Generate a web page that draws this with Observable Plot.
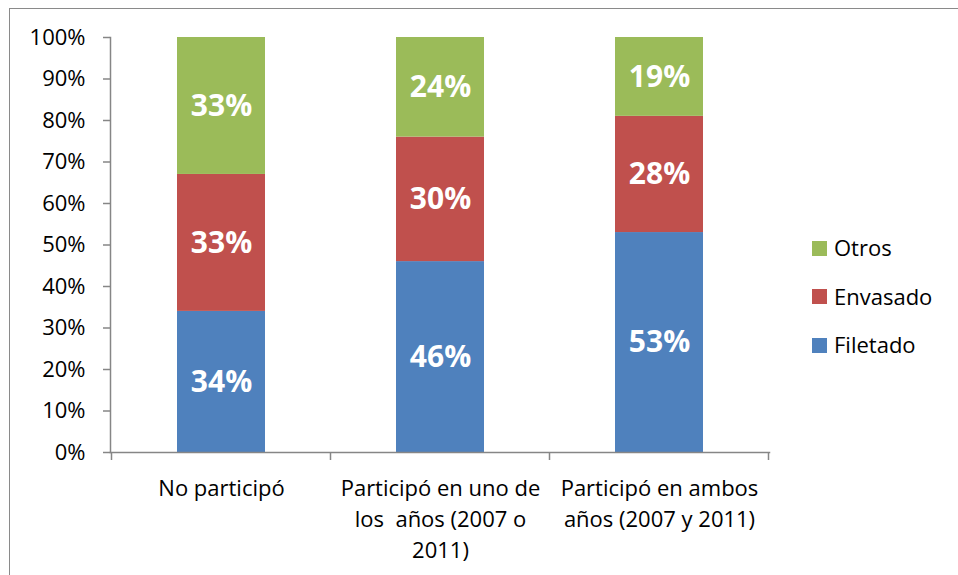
<!DOCTYPE html>
<html>
<head>
<meta charset="utf-8">
<script src="https://cdn.jsdelivr.net/npm/d3@7"></script>
<script src="https://cdn.jsdelivr.net/npm/@observablehq/plot@0.6"></script>
<style>
  html, body { margin: 0; padding: 0; background: #fff; }
  #wrap { position: relative; width: 958px; height: 575px; overflow: hidden; font-family: "Open Sans", sans-serif; }
  #border { position: absolute; left: 9px; top: 8px; width: 1000px; height: 700px; border-left: 1.5px solid #8a8a8a; border-top: 1.5px solid #8a8a8a; }
  #chart { position: absolute; left: 0; top: 0; }
  #legend { position: absolute; left: 812px; top: 232px; }
  .item { position: absolute; left: 0; height: 30px; white-space: nowrap; font-size: 22px; color: #000; line-height: 30px; }
  .sw { display: inline-block; width: 15px; height: 15px; vertical-align: middle; margin-right: 7px; position: relative; top: -2px; }
</style>
</head>
<body>
<div id="wrap">
  <div id="border"></div>
  <div id="chart"></div>
  <div id="legend"></div>
</div>
<script>
const categories = ["No participó", "Participó en uno de los  años (2007 o 2011)", "Participó en ambos años (2007 y 2011)"];
const axisLabels = ["No participó", "Participó en uno de\nlos  años (2007 o\n2011)", "Participó en ambos\naños (2007 y 2011)"];
const series = ["Filetado", "Envasado", "Otros"];
const colors = ["#4F81BD", "#C0504D", "#9BBB59"];
const filetado = [34, 46, 53];
const envasado = [33, 30, 28];
const otros = [33, 24, 19];
const yTicks = [0, 10, 20, 30, 40, 50, 60, 70, 80, 90, 100];

const values = [filetado, envasado, otros];
const data = [];
series.forEach((s, si) => categories.forEach((c, ci) => data.push({cat: c, series: s, value: values[si][ci]})));

const axisGray = "#868686";

function boundaryTicks(index, scales, vals, dims) {
  const x = scales.x;
  let bw = x.bandwidth; if (typeof bw === "function") bw = bw();
  const centers = categories.map(c => x(c) + bw / 2);
  const step = centers.length > 1 ? centers[1] - centers[0] : bw;
  const bounds = [centers[0] - step / 2, ...centers.map(c => c + step / 2)];
  const y0 = dims.height - dims.marginBottom;
  const g = d3.create("svg:g").attr("stroke", axisGray).attr("stroke-width", 1.5);
  g.selectAll("line").data(bounds).join("line")
    .attr("x1", d => d).attr("x2", d => d)
    .attr("y1", y0).attr("y2", y0 + 8);
  return g.node();
}

const chart = Plot.plot({
  width: 958,
  height: 575,
  marginLeft: 110,
  marginRight: 189,
  marginTop: 37,
  marginBottom: 123,
  style: {fontFamily: "'Open Sans', sans-serif", fontSize: "22px", color: "#000", background: "transparent"},
  x: {domain: categories, paddingInner: 0.6, paddingOuter: 0.3, label: null, axis: null},
  y: {domain: [0, 100], label: null, axis: null},
  color: {domain: series, range: colors},
  marks: [
    Plot.barY(data, {x: "cat", y: "value", fill: "series"}),
    Plot.text(data, Plot.stackY({x: "cat", y: "value", z: "series", text: d => d.value + "%", fill: "white", fontWeight: "bold", fontSize: 30})),
    Plot.frame({anchor: "left", stroke: axisGray, strokeWidth: 1.5}),
    Plot.frame({anchor: "bottom", stroke: axisGray, strokeWidth: 1.5}),
    Plot.axisY(yTicks, {tickSize: 7, tickPadding: 18, tickFormat: d => d + "%", stroke: axisGray, strokeWidth: 1.5, fill: "black", fontSize: 22}),
    Plot.axisX(categories, {tickSize: 0, tickPadding: 21, tickFormat: (d, i) => axisLabels[categories.indexOf(d)], lineHeight: 1.41, fill: "black", fontSize: 22}),
    boundaryTicks
  ]
});
document.getElementById("chart").appendChild(chart);

const legend = document.getElementById("legend");
const order = [2, 1, 0];
order.forEach((si, k) => {
  const item = document.createElement("div");
  item.className = "item";
  item.style.top = (k * 48.5) + "px";
  const sw = document.createElement("span");
  sw.className = "sw";
  sw.style.background = colors[si];
  item.appendChild(sw);
  item.appendChild(document.createTextNode(series[si]));
  legend.appendChild(item);
});
</script>
</body>
</html>
